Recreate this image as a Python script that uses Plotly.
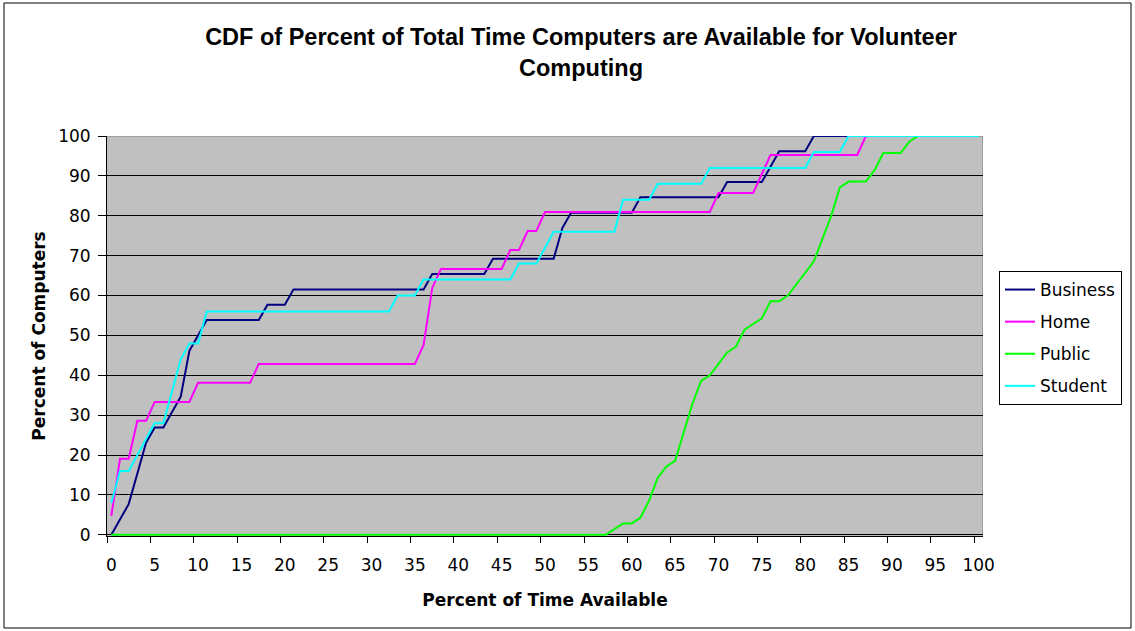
import plotly.graph_objects as go

# ---- data ----
pct_time = list(range(0, 101))
x_tick_labels = ["0", "5", "10", "15", "20", "25", "30", "35", "40", "45", "50",
                 "55", "60", "65", "70", "75", "80", "85", "90", "95", "100"]
x_tick_vals = [0, 5, 10, 15, 20, 25, 30, 35, 40, 45, 50, 55, 60, 65, 70, 75, 80, 85, 90, 95, 100]

business = [0, 3.85, 7.69, 15.38, 23.08, 26.92, 26.92, 30.77, 34.62, 46.15,
            50.0, 53.85, 53.85, 53.85, 53.85, 53.85, 53.85, 53.85, 57.69, 57.69,
            57.69, 61.54, 61.54, 61.54, 61.54, 61.54, 61.54, 61.54, 61.54, 61.54,
            61.54, 61.54, 61.54, 61.54, 61.54, 61.54, 61.54, 65.38, 65.38, 65.38,
            65.38, 65.38, 65.38, 65.38, 69.23, 69.23, 69.23, 69.23, 69.23, 69.23,
            69.23, 69.23, 76.92, 80.77, 80.77, 80.77, 80.77, 80.77, 80.77, 80.77,
            80.77, 84.62, 84.62, 84.62, 84.62, 84.62, 84.62, 84.62, 84.62, 84.62,
            84.62, 88.46, 88.46, 88.46, 88.46, 88.46, 92.31, 96.15, 96.15, 96.15,
            96.15, 100, 100, 100, 100, 100, 100, 100, 100, 100,
            100, 100, 100, 100, 100, 100, 100, 100, 100, 100, 100]

home = [4.76, 19.05, 19.05, 28.57, 28.57, 33.33, 33.33, 33.33, 33.33, 33.33,
        38.10, 38.10, 38.10, 38.10, 38.10, 38.10, 38.10, 42.86, 42.86, 42.86,
        42.86, 42.86, 42.86, 42.86, 42.86, 42.86, 42.86, 42.86, 42.86, 42.86,
        42.86, 42.86, 42.86, 42.86, 42.86, 42.86, 47.62, 61.90, 66.67, 66.67,
        66.67, 66.67, 66.67, 66.67, 66.67, 66.67, 71.43, 71.43, 76.19, 76.19,
        80.95, 80.95, 80.95, 80.95, 80.95, 80.95, 80.95, 80.95, 80.95, 80.95,
        80.95, 80.95, 80.95, 80.95, 80.95, 80.95, 80.95, 80.95, 80.95, 80.95,
        85.71, 85.71, 85.71, 85.71, 85.71, 90.48, 95.24, 95.24, 95.24, 95.24,
        95.24, 95.24, 95.24, 95.24, 95.24, 95.24, 95.24, 100, 100, 100,
        100, 100, 100, 100, 100, 100, 100, 100, 100, 100, 100]

public = [0, 0, 0, 0, 0, 0, 0, 0, 0, 0,
          0, 0, 0, 0, 0, 0, 0, 0, 0, 0,
          0, 0, 0, 0, 0, 0, 0, 0, 0, 0,
          0, 0, 0, 0, 0, 0, 0, 0, 0, 0,
          0, 0, 0, 0, 0, 0, 0, 0, 0, 0,
          0, 0, 0, 0, 0, 0, 0, 0, 1.43, 2.86,
          2.86, 4.29, 8.57, 14.29, 17.14, 18.57, 25.71, 32.86, 38.57, 40.0,
          42.86, 45.71, 47.14, 51.43, 52.86, 54.29, 58.57, 58.57, 60.0, 62.86,
          65.71, 68.57, 74.29, 80.0, 87.14, 88.57, 88.57, 88.57, 91.43, 95.71,
          95.71, 95.71, 98.57, 100, 100, 100, 100, 100, 100, 100, 100]

student = [8, 16, 16, 20, 24, 28, 28, 36, 44, 48,
           48, 56, 56, 56, 56, 56, 56, 56, 56, 56,
           56, 56, 56, 56, 56, 56, 56, 56, 56, 56,
           56, 56, 56, 60, 60, 60, 64, 64, 64, 64,
           64, 64, 64, 64, 64, 64, 64, 68, 68, 68,
           72, 76, 76, 76, 76, 76, 76, 76, 76, 84,
           84, 84, 84, 88, 88, 88, 88, 88, 88, 92,
           92, 92, 92, 92, 92, 92, 92, 92, 92, 92,
           92, 96, 96, 96, 96, 100, 100, 100, 100, 100,
           100, 100, 100, 100, 100, 100, 100, 100, 100, 100, 100]

series_names = ["Business", "Home", "Public", "Student"]
series_values = [business, home, public, student]
series_colors = ["#000080", "#FF00FF", "#00FF00", "#00FFFF"]

# ---- figure ----
W, H = 1135, 631
ML, MR, MT, MB = 107, 152, 136, 95
PW, PH = W - ML - MR, H - MT - MB

BODY = "DejaVu Sans, Verdana, sans-serif"
TITLE_FONT = "Liberation Sans, Arial, sans-serif"

fig = go.Figure()
for name, vals, col in zip(series_names, series_values, series_colors):
    fig.add_trace(go.Scatter(
        x=pct_time, y=vals, mode="lines", name=name, legendgroup=name,
        line=dict(color=col, width=2), hoverinfo="x+y+name"))

def px_to_paper_x(px):
    return (px - ML) / PW

def py_to_paper_y(py):
    return (H - MB - py) / PH

fig.update_layout(
    width=W, height=H,
    margin=dict(l=ML, r=MR, t=MT, b=MB, pad=0),
    paper_bgcolor="white",
    plot_bgcolor="#C0C0C0",
    font=dict(family=BODY, size=17, color="black"),
    title=dict(
        text="<b>CDF of Percent of Total Time Computers are Available for Volunteer<br>Computing</b>",
        font=dict(family=TITLE_FONT, size=23.5, color="black"),
        x=581 / W, xanchor="center", xref="container",
        y=1 - 45 / H, yanchor="top", yref="container"),
    showlegend=True,
    legend=dict(
        x=px_to_paper_x(999), xanchor="left",
        y=py_to_paper_y(271), yanchor="top",
        bgcolor="white", bordercolor="black", borderwidth=1,
        font=dict(family=BODY, size=17, color="black"),
        tracegroupgap=7, traceorder="grouped"),
    xaxis=dict(
        range=[-0.5, 100.5], tickmode="array", tickvals=x_tick_vals, ticktext=x_tick_labels,
        ticks="outside", ticklen=6, tickcolor="rgba(0,0,0,0)", ticklabelstandoff=8,
        minor=dict(tick0=-0.5, dtick=5, ticks="outside", ticklen=6, tickcolor="black",
                   tickwidth=1, showgrid=False),
        showgrid=False, zeroline=False, layer="below traces",
        showline=True, linecolor="black", linewidth=1,
        tickfont=dict(family=BODY, size=17, color="black"),
        title=dict(text="<b>Percent of Time Available</b>", standoff=19,
                   font=dict(family=BODY, size=17, color="black"))),
    yaxis=dict(
        range=[-0.3, 100], tickmode="array",
        tickvals=[0, 10, 20, 30, 40, 50, 60, 70, 80, 90, 100],
        ticks="outside", ticklen=8, tickcolor="black", tickwidth=1, ticklabelstandoff=4,
        showgrid=True, gridcolor="black", gridwidth=1, zeroline=False, layer="below traces",
        showline=True, linecolor="black", linewidth=1,
        tickfont=dict(family=BODY, size=17, color="black"),
        title=dict(text="<b>Percent of Computers</b>", standoff=8,
                   font=dict(family=BODY, size=17, color="black"))),
    shapes=[
        # plot-area border on top and right (grey)
        dict(type="line", xref="x", yref="y", x0=-0.5, x1=100.5, y0=100, y1=100,
             line=dict(color="#808080", width=1), layer="below"),
        dict(type="line", xref="x", yref="y", x0=100.5, x1=100.5, y0=-0.3, y1=100,
             line=dict(color="#808080", width=1), layer="below"),
        # chart-area outer border
        dict(type="rect", xref="paper", yref="paper",
             x0=px_to_paper_x(4), x1=px_to_paper_x(1131),
             y0=py_to_paper_y(628), y1=py_to_paper_y(3),
             line=dict(color="black", width=1), fillcolor="rgba(0,0,0,0)", layer="above"),
    ],
)

fig.write_html("out.html", config={"displayModeBar": False},
               post_script="document.body.style.margin='0px';")
